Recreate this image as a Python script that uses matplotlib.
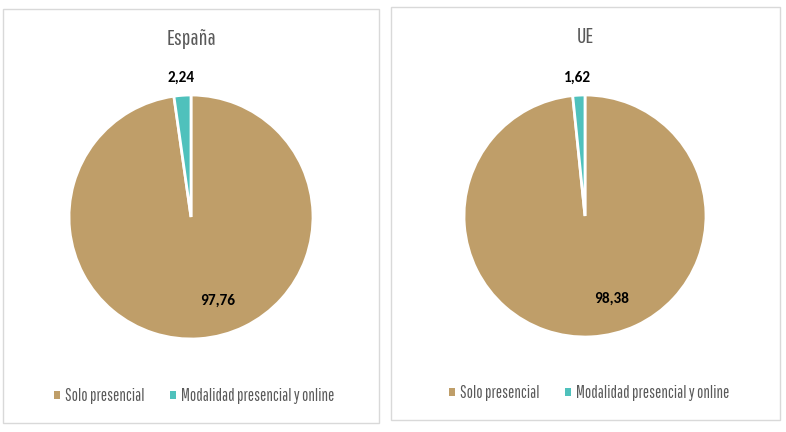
import numpy as np
import matplotlib

matplotlib.use("Agg")
import matplotlib.pyplot as plt
from matplotlib.patches import Rectangle

CATEGORIAS = ["Solo presencial", "Modalidad presencial y online"]
TITULOS = ["España", "UE"]
ESPANA = [97.76, 2.24]
UE = [98.38, 1.62]
ETIQUETAS_ESPANA = ["97,76", "2,24"]
ETIQUETAS_UE = ["98,38", "1,62"]

COLORES = ["#BF9E69", "#4FC1BC"]
GRIS = "#595959"
FUENTE_COND = ["Pathway Gothic One", "Big Shoulders Text", "Barlow Condensed", "DejaVu Sans"]
FUENTE_NUM = ["Carlito", "Liberation Sans", "DejaVu Sans"]

W, H = 786, 432
fig = plt.figure(figsize=(W / 100, H / 100), dpi=100)


def px(x0, y0, x1, y1):
    """caja en pixeles (origen arriba-izquierda) -> fraccion de figura"""
    return [x0 / W, 1 - y1 / H, (x1 - x0) / W, (y1 - y0) / H]


def panel(caja, cx, cy, r, titulo, valores, etiquetas, tit_y, ley_y, ley_x):
    x0, y0, x1, y1 = caja
    fig.patches.append(Rectangle((x0 / W, 1 - y1 / H), (x1 - x0) / W, (y1 - y0) / H,
                                 transform=fig.transFigure, fill=False,
                                 edgecolor="#D9D9D9", linewidth=1))
    ax = fig.add_axes(px(cx - r, cy - r, cx + r, cy + r))
    wedges, _ = ax.pie(valores, colors=COLORES, startangle=90, counterclock=False,
                       wedgeprops=dict(edgecolor="white", linewidth=2))
    ax.set_xlim(-1, 1)
    ax.set_ylim(-1, 1)
    ax.set_aspect("equal")
    # etiqueta grande dentro, pequeña fuera arriba
    ang = np.deg2rad(-72)
    ax.text(0.72 * np.cos(ang), 0.72 * np.sin(ang), etiquetas[0], ha="center", va="center",
            fontsize=11, fontweight="bold", color="black", family=FUENTE_NUM)
    w2 = wedges[1]
    mid = np.deg2rad((w2.theta1 + w2.theta2) / 2)
    ax.text(1.14 * np.cos(mid), 1.14 * np.sin(mid), etiquetas[1], ha="center", va="center",
            fontsize=11, fontweight="bold", color="black", family=FUENTE_NUM)
    fig.text((x0 + x1) / 2 / W, 1 - tit_y / H, titulo, ha="center", va="center",
             fontsize=16, color=GRIS, family=FUENTE_COND)
    leg = fig.legend(wedges, CATEGORIAS, loc="center", bbox_to_anchor=(ley_x / W, 1 - ley_y / H),
                     ncol=2, frameon=False, handlelength=0.38, handleheight=0.38,
                     handletextpad=0.3, columnspacing=1.5,
                     prop=dict(family=FUENTE_COND, size=12))
    for t in leg.get_texts():
        t.set_color(GRIS)
    for h in leg.legend_handles:
        h.set_edgecolor("none")


panel((3, 9, 379, 423), 191, 217, 122, TITULOS[0], ESPANA, ETIQUETAS_ESPANA, 39, 396, 194)
panel((391, 7, 780, 420), 585, 216, 121, TITULOS[1], UE, ETIQUETAS_UE, 37, 393, 589)

fig.savefig("out.png", dpi=100)
